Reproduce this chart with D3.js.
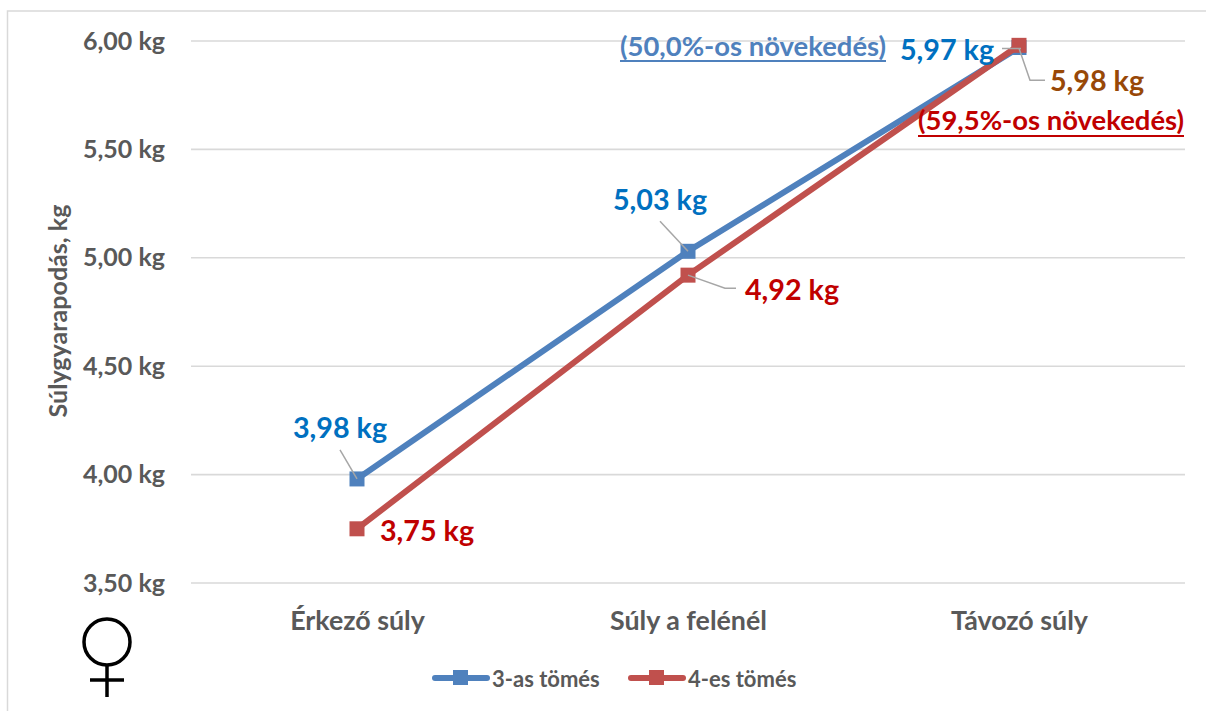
<!DOCTYPE html>
<html><head><meta charset="utf-8">
<script src="https://cdnjs.cloudflare.com/ajax/libs/d3/7.8.5/d3.min.js"></script>
<style>html,body{margin:0;padding:0;background:#fff}svg{display:block}text{font-family:Lato,"Noto Sans",sans-serif;font-weight:700}</style>
</head><body><svg id="c" width="1206" height="711"></svg>
<script>
const categories = ["Érkező súly", "Súly a felénél", "Távozó súly"];
const seriesNames = ["3-as tömés", "4-es tömés"];
const series3 = [3.98, 5.03, 5.97];
const series4 = [3.75, 4.92, 5.98];
const yTicks = [3.5, 4, 4.5, 5, 5.5, 6];
const note3 = "(50,0%-os növekedés)";
const note4 = "(59,5%-os növekedés)";
const yTitle = "Súlygyarapodás, kg";

const svg = d3.select("#c");
const x = d3.scalePoint().domain(categories).range([357, 1019]);
const y = d3.scaleLinear().domain([3.5, 6]).range([583, 41]);
const fmt = v => v.toFixed(2).replace(".", ",") + " kg";
const grey = "#595959", blue = "#4F81BD", red = "#C0504D";

// frame
svg.append("path").attr("d", "M7.5,711V11H1206").attr("fill", "none").attr("stroke", "#d9d9d9").attr("stroke-width", 1.5);

// grid
svg.append("g").selectAll("line").data(yTicks).join("line")
  .attr("x1", 191).attr("x2", 1185).attr("y1", d => y(d)).attr("y2", d => y(d))
  .attr("stroke", "#d9d9d9").attr("stroke-width", 1.6);

// axes
const gy = svg.append("g").attr("transform", "translate(172,0)")
  .call(d3.axisLeft(y).tickValues(yTicks).tickSize(0).tickPadding(7).tickFormat(fmt));
gy.select(".domain").remove();
gy.selectAll("text").attr("fill", grey).style("font-size", "25px").style("font-family", "Lato");
const gx = svg.append("g").attr("transform", "translate(0,608)")
  .call(d3.axisBottom(x).tickSize(0).tickPadding(3));
gx.select(".domain").remove();
gx.selectAll("text").attr("fill", grey).style("font-size", "26.8px").style("font-family", "Lato");

svg.append("text").attr("transform", "translate(67,311) rotate(-90)").attr("text-anchor", "middle")
  .attr("fill", grey).style("font-size", "24px").attr("textLength", 213).attr("lengthAdjust", "spacingAndGlyphs").text(yTitle);

// series
const line = d3.line().x((d, i) => x(categories[i])).y(d => y(d));
[[series3, blue], [series4, red]].forEach(([vals, col]) => {
  svg.append("path").attr("d", line(vals)).attr("fill", "none").attr("stroke", col).attr("stroke-width", 6);
  svg.append("g").selectAll("rect").data(vals).join("rect")
    .attr("x", (d, i) => x(categories[i]) - 7.5).attr("y", d => y(d) - 7.5)
    .attr("width", 15).attr("height", 15).attr("fill", col);
});

// leader lines, as offsets from their points
const leaders = [
  [series3, 0, [[-17, -29], [0, 0]]],
  [series3, 1, [[-28, -30], [0, 0]]],
  [series4, 1, [[0, 0], [37, 13], [48, 13]]],
  [series3, 2, [[-17, 1], [2, 1]]],
  [series4, 2, [[0, 3], [11, 35], [26, 35]]]
];
leaders.forEach(([vals, i, pts]) => {
  const px = x(categories[i]), py = y(vals[i]);
  svg.append("path").attr("d", d3.line()(pts.map(p => [px + p[0], py + p[1]])))
    .attr("fill", "none").attr("stroke", "#a6a6a6").attr("stroke-width", 1.5);
});

// value labels, as offsets from their points
const labels = [
  [series3, 0, -17, -52, "#0070C0"],
  [series4, 0, 70, 1, "#C00000"],
  [series3, 1, -28, -52, "#0070C0"],
  [series4, 1, 104, 14, "#C00000"],
  [series3, 2, -72, 1, "#0070C0"],
  [series4, 2, 78, 35, "#984807"]
];
labels.forEach(([vals, i, dx, dy, col]) => {
  svg.append("text").attr("x", x(categories[i]) + dx).attr("y", y(vals[i]) + dy)
    .attr("text-anchor", "middle").attr("dominant-baseline", "central")
    .attr("fill", col).style("font-size", "28.7px").text(fmt(vals[i]));
});

// notes
[[note3, 753, 46, blue, 61], [note4, 1051, 120, "#C00000", 136]].forEach(([t, cx, cy, col, uy]) => {
  svg.append("text").attr("x", cx).attr("y", cy).attr("text-anchor", "middle")
    .attr("dominant-baseline", "central").attr("fill", col).style("font-size", "26px")
    .attr("textLength", 266).attr("lengthAdjust", "spacingAndGlyphs").text(t);
  svg.append("line").attr("x1", cx - 133).attr("x2", cx + 133).attr("y1", uy).attr("y2", uy)
    .attr("stroke", col).attr("stroke-width", 2);
});

// legend
[[433, 492, blue], [629, 688, red]].forEach(([lx, tx, col], i) => {
  svg.append("line").attr("x1", lx + 2).attr("x2", lx + 54).attr("y1", 678).attr("y2", 678)
    .attr("stroke", col).attr("stroke-width", 6).attr("stroke-linecap", "round");
  svg.append("rect").attr("x", lx + 20).attr("y", 670).attr("width", 15).attr("height", 15).attr("fill", col);
  svg.append("text").attr("x", tx).attr("y", 678).attr("dominant-baseline", "central")
    .attr("fill", grey).style("font-size", "22px").text(seriesNames[i]);
});

// venus symbol
const v = svg.append("g").attr("fill", "none").attr("stroke", "#000").attr("stroke-width", 3.5);
v.append("ellipse").attr("cx", 107).attr("cy", 642).attr("rx", 23).attr("ry", 23);
v.append("line").attr("x1", 107).attr("x2", 107).attr("y1", 665).attr("y2", 697);
v.append("line").attr("x1", 90).attr("x2", 124).attr("y1", 680).attr("y2", 680);
</script></body></html>
